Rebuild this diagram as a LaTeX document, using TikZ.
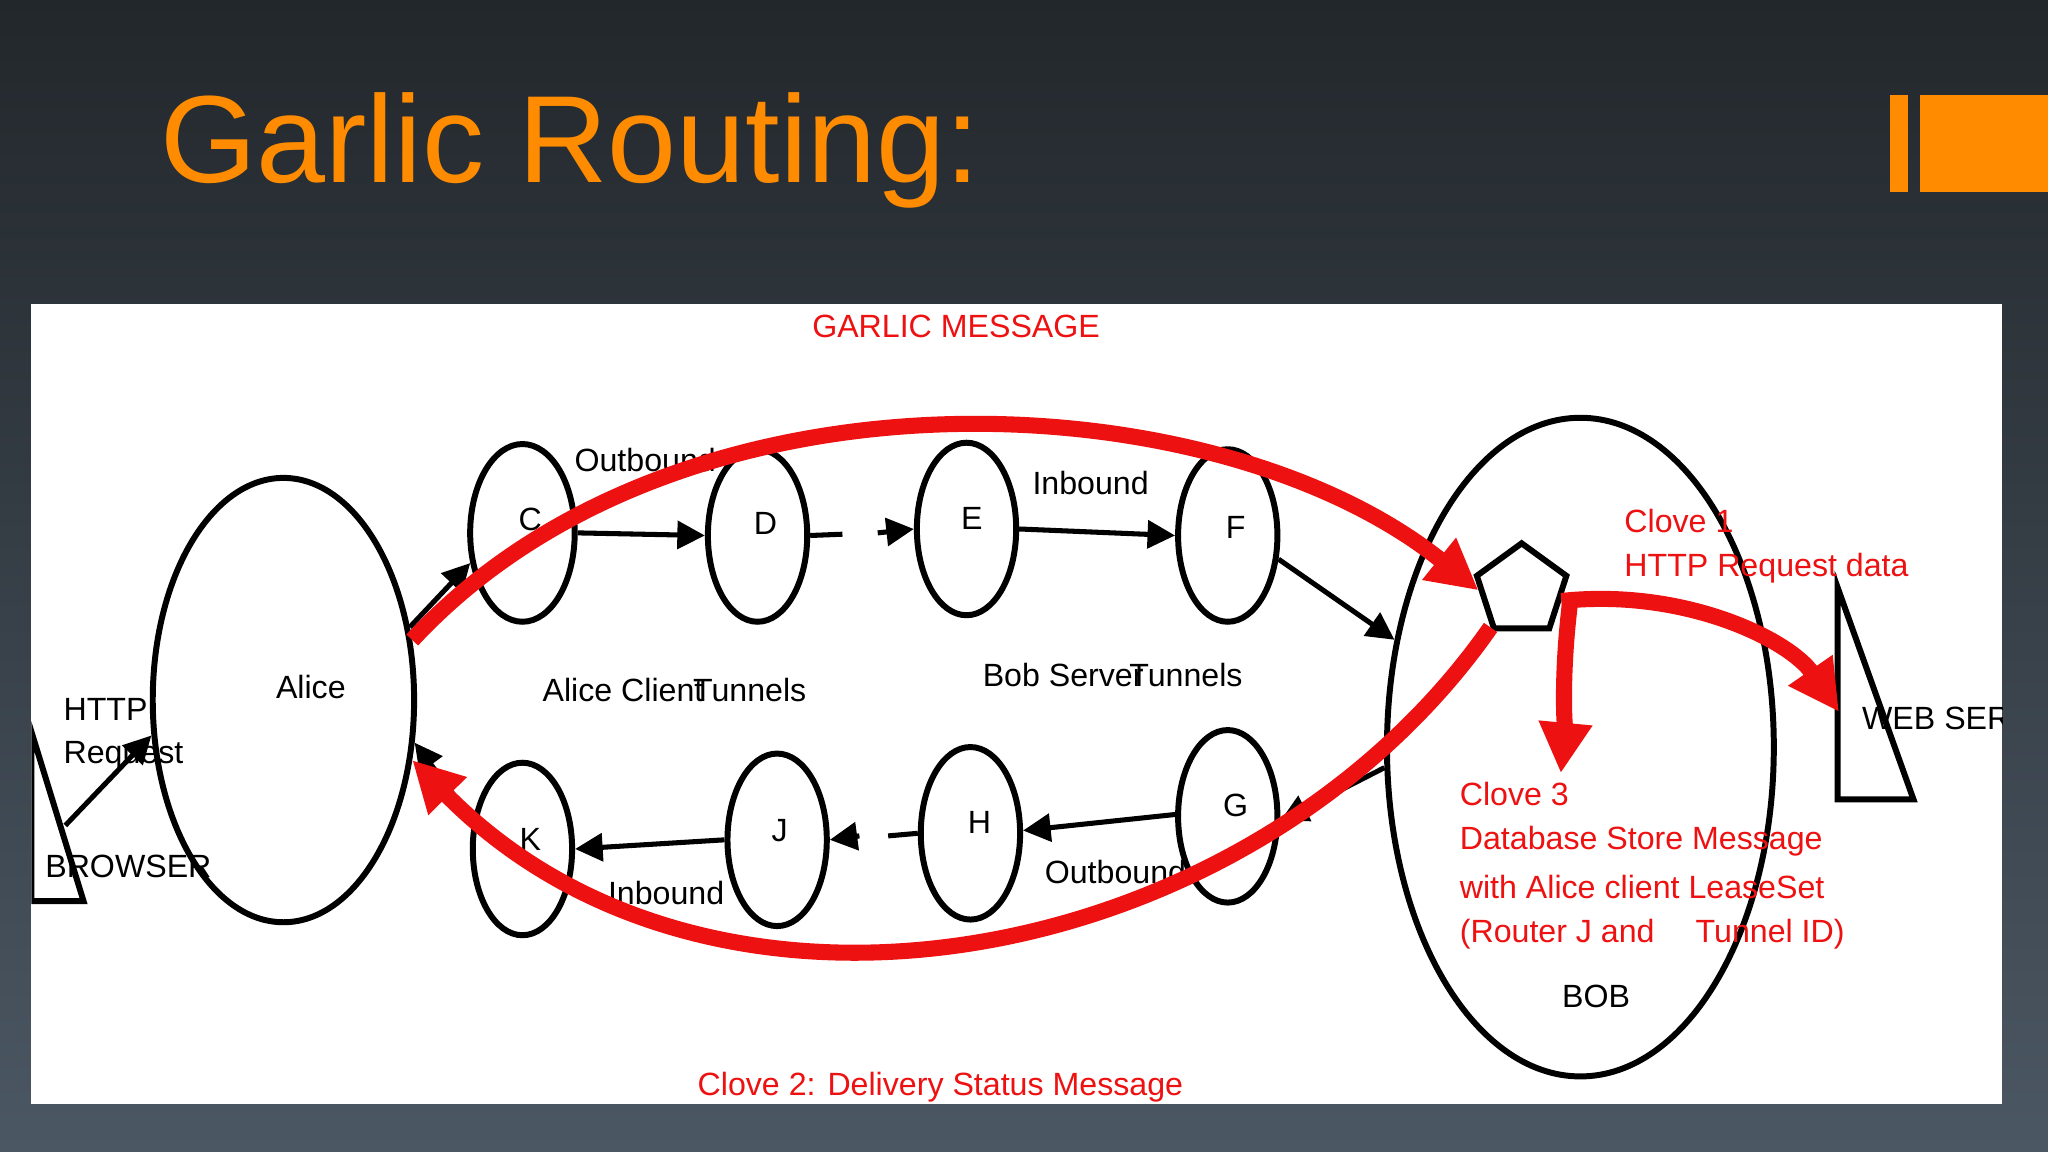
\documentclass[tikz,border=0pt]{standalone}
\usepackage{fontspec}
\setmainfont{Liberation Sans}
\usetikzlibrary{shapes.geometric,arrows.meta}
\definecolor{garlicorange}{HTML}{FF8C00}
\definecolor{bgtop}{HTML}{22272B}
\definecolor{bgbot}{HTML}{4B5763}
\definecolor{clovered}{HTML}{EE1111}
\tikzset{
  circ/.style={draw=black,line width=1.3pt,ellipse,inner sep=0pt},
  smallc/.style={circ,minimum width=0.76cm,minimum height=1.32cm},
  lbl/.style={font=\fontsize{7pt}{8pt}\selectfont,inner sep=0pt},
  rlbl/.style={lbl,text=clovered,align=left},
  blk/.style={-{Triangle[length=6pt,width=6pt]},line width=1.1pt},
  redarr/.style={-{Triangle[length=11pt,width=11pt]},line width=3.5pt,draw=clovered},
}
\begin{document}
\begin{tikzpicture}[x=0.01cm,y=-0.01cm]
\useasboundingbox (0,0) rectangle (1568,882);
\shade[top color=bgtop,bottom color=bgbot] (0,0) rectangle (1568,882);
\node[anchor=base west,text=garlicorange,font=\fontsize{27pt}{30pt}\selectfont,inner sep=0pt] (title) at (122,140) {Garlic Routing:};
\fill[garlicorange] (1447,73) rectangle (1461,147);
\fill[garlicorange] (1470,73) rectangle (1568,147);
\fill[white] (24,233) rectangle (1533,845);
\begin{scope}
\clip (24,233) rectangle (1533,845);
% circles
\node[circ,minimum width=2cm,minimum height=3.4cm] (alice) at (217,536) {};
\node[circ,minimum width=0.8cm,minimum height=1.36cm] (C) at (400,408) {};
\node[smallc] (D) at (580,410) {};
\node[smallc] (E) at (740,405) {};
\node[smallc] (F) at (940,410) {};
\node[circ,minimum width=2.96cm,minimum height=5.04cm] (bob) at (1210,572) {};
\node[smallc] (K) at (400,650) {};
\node[smallc] (J) at (595,643) {};
\node[smallc] (H) at (743,638) {};
\node[smallc] (G) at (940,625) {};
\node[draw,line width=1.3pt,regular polygon,regular polygon sides=5,minimum size=0.72cm,inner sep=0pt] (pent) at (1165,452) {};
\draw[line width=1.3pt] (1407,450) -- (1407,612) -- (1465,612) -- cycle;
\draw[line width=1.3pt] (24,560) -- (24,690) -- (64,690) -- cycle;
\coordinate (ws) at (1408,545);
% labels
\node[lbl] at (406,398) {C};
\node[lbl] at (586,401) {D};
\node[lbl] at (744,397) {E};
\node[lbl] at (946,404) {F};
\node[lbl] at (406,643) {K};
\node[lbl] at (597,636) {J};
\node[lbl] at (750,630) {H};
\node[lbl] at (946,617) {G};
\node[lbl] at (238,526) {Alice};
\node[lbl] at (494,352) {Outbound};
\node[lbl] at (835,370) {Inbound};
\node[lbl] at (477,528) {Alice Client};
\node[lbl] at (574,528) {Tunnels};
\node[lbl] at (814,517) {Bob Server};
\node[lbl] at (908,517) {Tunnels};
\node[lbl] at (510,684) {Inbound};
\node[lbl] at (854,668) {Outbound};
\node[lbl,anchor=west] at (48,543) {HTTP};
\node[lbl,anchor=west] at (48,579) {Request};
\node[lbl,anchor=west] at (34,663) {BROWSER};
\node[lbl,anchor=west] at (1425,550) {WEB SERVER};
\node[lbl] at (1222,763) {BOB};
\node[rlbl] at (732,250) {GARLIC MESSAGE};
\node[rlbl] at (720,832) {Clove 2: Delivery Status Message};
\node[rlbl,anchor=west] at (1243,399) {Clove 1};
\node[rlbl,anchor=west] at (1243,435) {HTTP Request data};
\node[rlbl,anchor=west] at (1117,608) {Clove 3};
\node[rlbl,anchor=west] at (1117,644) {Database Store Message};
\node[rlbl,anchor=west] at (1117,679) {with Alice client LeaseSet};
\node[rlbl,anchor=west] at (1117,715) {(Router J and \quad Tunnel ID)};
% black arrows
\draw[blk] (C.east) -- (D.west);
\draw[line width=1.1pt] (D.east) -- (645,409);
\draw[blk] (672,408) -- (E.west);
\draw[blk] (E.east) -- (F.west);
\draw[blk] (F.-25) -- (bob.150);
\draw[blk] (alice.30) -- (C.210);
\draw[blk] (bob.186) -- (G.-5);
\draw[blk] (G.178) -- (H.3);
\draw[line width=1.1pt] (H.west) -- (680,640);
\draw[blk] (658,640) -- (J.east);
\draw[blk] (J.west) -- (K.east);
\draw[blk] (K.150) -- (alice.-18);
\draw[blk] (50,632) -- (alice.195);
% red arrows
\draw[redarr] (alice.25) .. controls (520,270) and (930,290) .. (pent.west);
\draw[redarr] (pent.-15) .. controls (1290,450) and (1370,490) .. (ws);
\draw[redarr] (1202,462) .. controls (1195,520) and (1198,560) .. (1195,592);
\draw[redarr] (pent.-130) .. controls (960,740) and (550,820) .. (alice.-25);
\end{scope}
\end{tikzpicture}
\end{document}
